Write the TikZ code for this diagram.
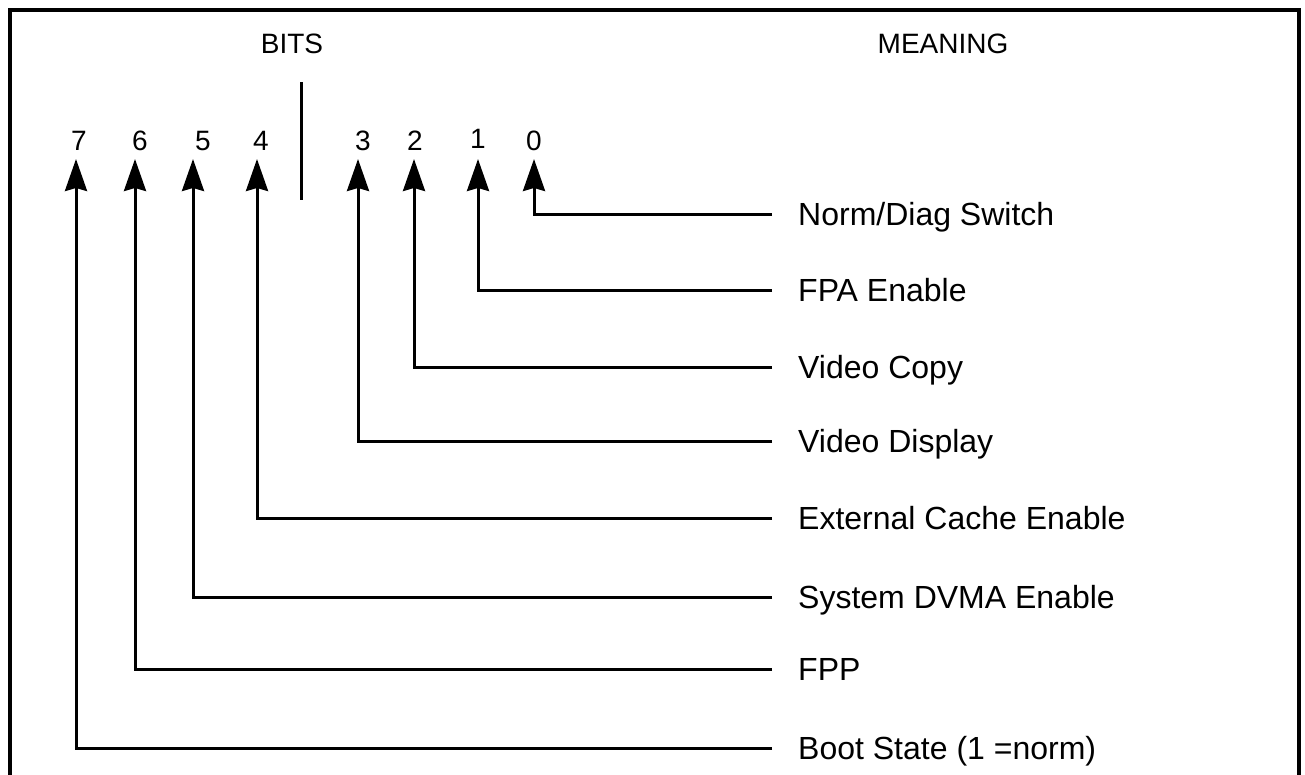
\documentclass[tikz,border=0pt]{standalone}
\usepackage{fontspec}
\setmainfont{Liberation Sans}
\usetikzlibrary{arrows.meta}
\begin{document}
\begin{tikzpicture}[x=1pt,y=-1pt,
  frame/.style={line width=4pt},
  conn/.style={line width=3pt,-{Stealth[length=32pt,width=22pt,inset=3pt]}},
  lbl/.style={anchor=west,inner xsep=26pt,inner ysep=0pt,text height=23pt,text depth=0pt,font=\fontsize{32}{38}\selectfont},
  dig/.style={anchor=base,inner sep=0pt,font=\fontsize{28}{34}\selectfont},
  head/.style={anchor=base,inner sep=0pt,font=\fontsize{28}{34}\selectfont},
  sepline/.style={line width=3pt}]
\useasboundingbox (0,0) rectangle (1305,774);
\draw[frame] (10,790) -- (10,10) -- (1299,10) -- (1299,790);
% headings
\node[head] (bits) at (292,53) {BITS};
\node[head] (meaning) at (943,53) {MEANING};
% separator
\coordinate (sepT) at (301,82);
\coordinate (sepB) at (301,200);
\draw[sepline] (sepT) -- (sepB);
% bit numbers
\node[dig] (d7) at (79,150) {7};
\node[dig] (d6) at (140,150) {6};
\node[dig] (d5) at (203,150) {5};
\node[dig] (d4) at (261,150) {4};
\node[dig] (d3) at (363,150) {3};
\node[dig] (d2) at (415,150) {2};
\node[dig] (d1) at (478,148) {1};
\node[dig] (d0) at (534,150) {0};
% arrow tips
\coordinate (t7) at (76,159);
\coordinate (t6) at (135,159);
\coordinate (t5) at (193,159);
\coordinate (t4) at (257,159);
\coordinate (t3) at (358,159);
\coordinate (t2) at (414,159);
\coordinate (t1) at (478,159);
\coordinate (t0) at (534,159);
% labels
\node[lbl] (l0) at (772,214) {Norm/Diag Switch};
\node[lbl] (l1) at (772,290) {FPA Enable};
\node[lbl] (l2) at (772,367) {Video Copy};
\node[lbl] (l3) at (772,441) {Video Display};
\node[lbl] (l4) at (772,518) {External Cache Enable};
\node[lbl] (l5) at (772,597) {System DVMA Enable};
\node[lbl] (l6) at (772,669) {FPP};
\node[lbl] (l7) at (772,748) {Boot State (1 =norm)};
% connectors
\draw[conn] (l0.west) -| (t0);
\draw[conn] (l1.west) -| (t1);
\draw[conn] (l2.west) -| (t2);
\draw[conn] (l3.west) -| (t3);
\draw[conn] (l4.west) -| (t4);
\draw[conn] (l5.west) -| (t5);
\draw[conn] (l6.west) -| (t6);
\draw[conn] (l7.west) -| (t7);
\end{tikzpicture}
\end{document}
